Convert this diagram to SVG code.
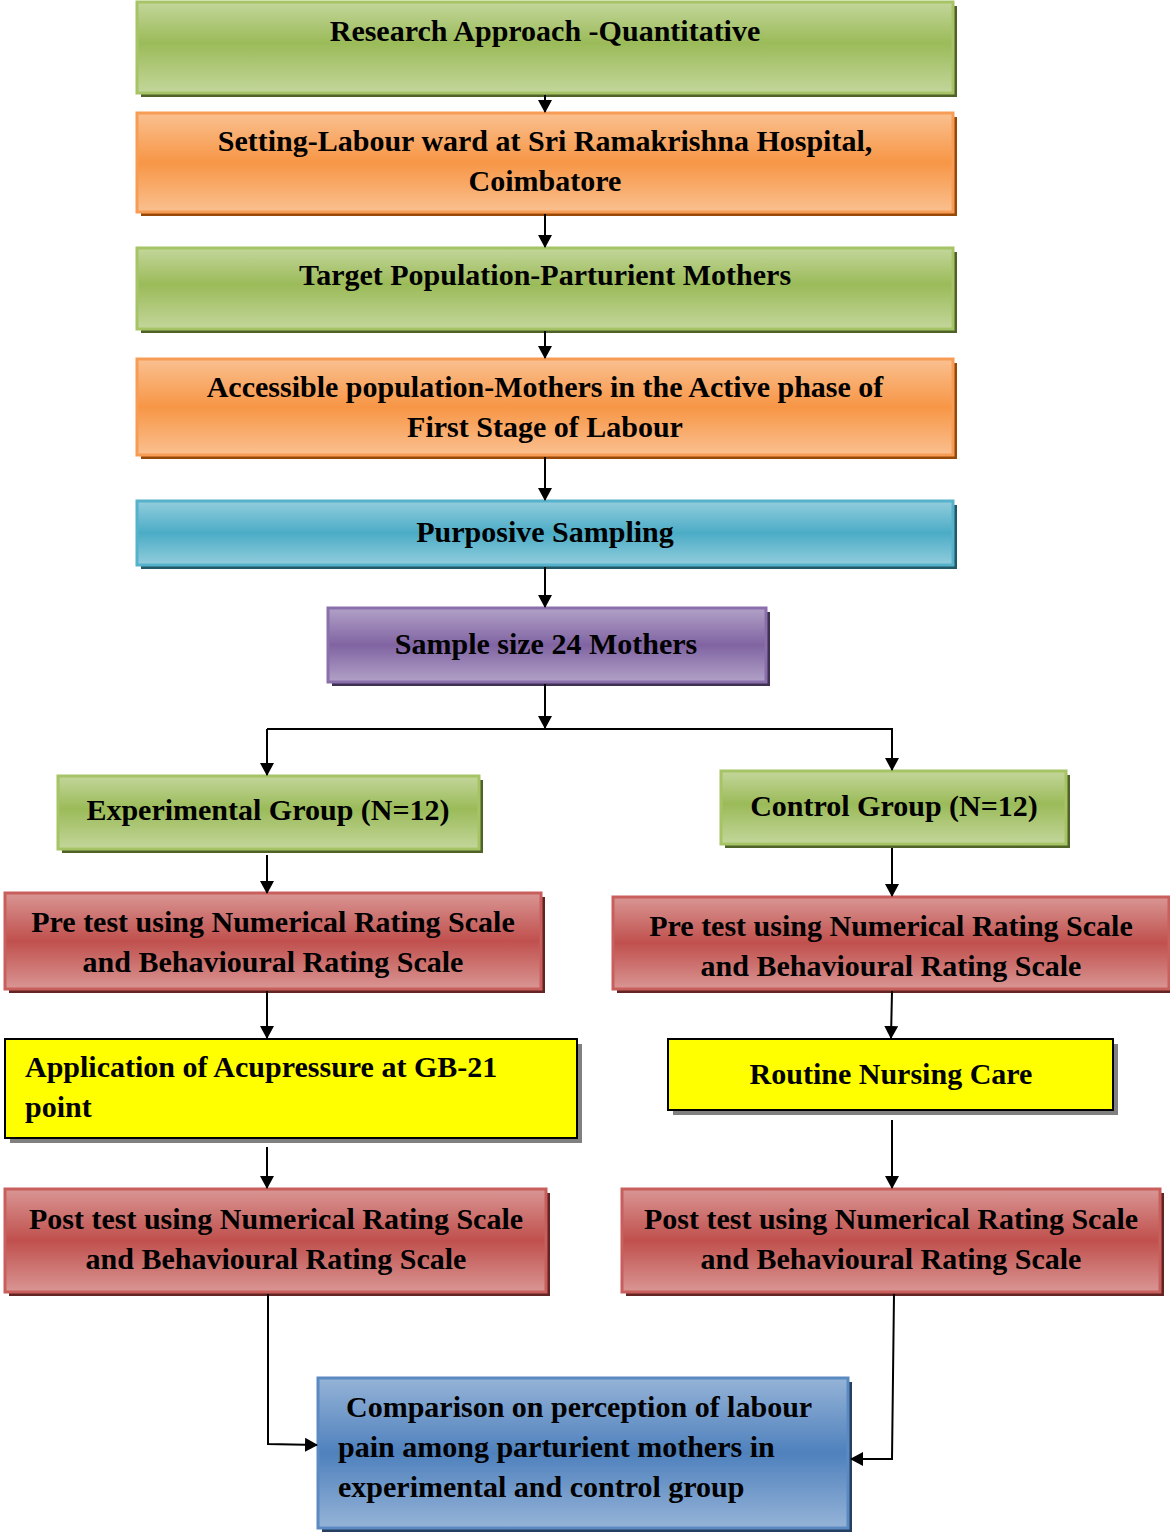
<svg xmlns="http://www.w3.org/2000/svg" width="1170" height="1534" viewBox="0 0 1170 1534" font-family="Liberation Serif, Times New Roman, serif">
<defs>
<linearGradient id="gGreen" x1="0" y1="0" x2="0" y2="1"><stop offset="0" stop-color="#c3d69b"/><stop offset="0.45" stop-color="#9bbb59"/><stop offset="1" stop-color="#c3d69b"/></linearGradient>
<linearGradient id="gOrange" x1="0" y1="0" x2="0" y2="1"><stop offset="0" stop-color="#fac090"/><stop offset="0.5" stop-color="#f79646"/><stop offset="1" stop-color="#fac090"/></linearGradient>
<linearGradient id="gCyan" x1="0" y1="0" x2="0" y2="1"><stop offset="0" stop-color="#93cddd"/><stop offset="0.5" stop-color="#4bacc6"/><stop offset="1" stop-color="#93cddd"/></linearGradient>
<linearGradient id="gPurple" x1="0" y1="0" x2="0" y2="1"><stop offset="0" stop-color="#b2a1c7"/><stop offset="0.5" stop-color="#8064a2"/><stop offset="1" stop-color="#b2a1c7"/></linearGradient>
<linearGradient id="gRed" x1="0" y1="0" x2="0" y2="1"><stop offset="0" stop-color="#d99694"/><stop offset="0.5" stop-color="#c0504d"/><stop offset="1" stop-color="#d99694"/></linearGradient>
<linearGradient id="gBlue" x1="0" y1="0" x2="0" y2="1"><stop offset="0" stop-color="#95b3d7"/><stop offset="0.5" stop-color="#4f81bd"/><stop offset="1" stop-color="#95b3d7"/></linearGradient>
<marker id="arr" markerWidth="13" markerHeight="14" viewBox="0 0 13 14" refX="12" refY="7" orient="auto" markerUnits="userSpaceOnUse"><path d="M0,0 L13,7 L0,14 Z" fill="#000"/></marker>
</defs>
<style>
text{font-family:'Liberation Serif','Times New Roman',serif;font-weight:bold;font-size:30px;fill:#000}
.c{text-anchor:middle}
.green{fill:url(#gGreen);stroke:#a6c465;stroke-width:3}
.greenS{fill:#4f6228}
.orange{fill:url(#gOrange);stroke:#f79c55;stroke-width:3}
.orangeS{fill:#984807}
.cyan{fill:url(#gCyan);stroke:#55b2ca;stroke-width:3}
.cyanS{fill:#215968}
.purple{fill:url(#gPurple);stroke:#8a6fab;stroke-width:3}
.purpleS{fill:#3f3151}
.red{fill:url(#gRed);stroke:#c85f5c;stroke-width:3}
.redS{fill:#632423}
.blue{fill:url(#gBlue);stroke:#5b8ac3;stroke-width:3}
.blueS{fill:#243f60}
.yellow{fill:#ffff00;stroke:#000;stroke-width:2}
.yellowS{fill:#808080}
.conn path{fill:none;stroke:#000;stroke-width:2}
</style>

<g id="n1"><rect class="greenS" x="141" y="6" width="816" height="91"/><rect class="green" x="137" y="2" width="816" height="91"/><text class="c" x="545" y="41">Research Approach -Quantitative</text></g>
<g id="n2"><rect class="orangeS" x="141" y="117" width="816" height="99"/><rect class="orange" x="137" y="113" width="816" height="99"/><text class="c" x="545" y="151">Setting-Labour ward at Sri Ramakrishna Hospital,</text><text class="c" x="545" y="191">Coimbatore</text></g>
<g id="n3"><rect class="greenS" x="141" y="252" width="816" height="81"/><rect class="green" x="137" y="248" width="816" height="81"/><text class="c" x="545" y="285">Target Population-Parturient Mothers</text></g>
<g id="n4"><rect class="orangeS" x="141" y="363" width="816" height="96"/><rect class="orange" x="137" y="359" width="816" height="96"/><text class="c" x="545" y="397">Accessible population-Mothers in the Active phase of</text><text class="c" x="545" y="437">First Stage of Labour</text></g>
<g id="n5"><rect class="cyanS" x="141" y="505" width="816" height="64"/><rect class="cyan" x="137" y="501" width="816" height="64"/><text class="c" x="545" y="542">Purposive Sampling</text></g>
<g id="n6"><rect class="purpleS" x="332" y="612" width="438" height="74"/><rect class="purple" x="328" y="608" width="438" height="74"/><text class="c" x="546" y="654">Sample size 24 Mothers</text></g>
<g id="n7"><rect class="greenS" x="62" y="780" width="421" height="73"/><rect class="green" x="58" y="776" width="421" height="73"/><text class="c" x="268" y="820">Experimental Group (N=12)</text></g>
<g id="n8"><rect class="greenS" x="725" y="775" width="345" height="73"/><rect class="green" x="721" y="771" width="345" height="73"/><text class="c" x="894" y="816">Control Group (N=12)</text></g>
<g id="n9"><rect class="redS" x="9" y="897" width="536" height="96"/><rect class="red" x="5" y="893" width="536" height="96"/><text class="c" x="273" y="932">Pre test using Numerical Rating Scale</text><text class="c" x="273" y="972">and Behavioural Rating Scale</text></g>
<g id="n10"><rect class="redS" x="617" y="901" width="556" height="92"/><rect class="red" x="613" y="897" width="556" height="92"/><text class="c" x="891" y="936">Pre test using Numerical Rating Scale</text><text class="c" x="891" y="976">and Behavioural Rating Scale</text></g>
<g id="n11"><rect class="yellowS" x="10" y="1044" width="572" height="99"/><rect class="yellow" x="5" y="1039" width="572" height="99"/><text x="25" y="1077">Application of Acupressure at GB-21</text><text x="25" y="1117">point</text></g>
<g id="n12"><rect class="yellowS" x="673" y="1044" width="445" height="71"/><rect class="yellow" x="668" y="1039" width="445" height="71"/><text class="c" x="891" y="1084">Routine Nursing Care</text></g>
<g id="n13"><rect class="redS" x="9" y="1193" width="541" height="103"/><rect class="red" x="5" y="1189" width="541" height="103"/><text class="c" x="276" y="1229">Post test using Numerical Rating Scale</text><text class="c" x="276" y="1269">and Behavioural Rating Scale</text></g>
<g id="n14"><rect class="redS" x="626" y="1193" width="538" height="103"/><rect class="red" x="622" y="1189" width="538" height="103"/><text class="c" x="891" y="1229">Post test using Numerical Rating Scale</text><text class="c" x="891" y="1269">and Behavioural Rating Scale</text></g>
<g id="n15"><rect class="blueS" x="322" y="1382" width="530" height="150"/><rect class="blue" x="318" y="1378" width="530" height="150"/><text x="346" y="1417">Comparison on perception of labour</text><text x="338" y="1457">pain among parturient mothers in</text><text x="338" y="1497">experimental and control group</text></g>

<g id="connectors" class="conn">
<path d="M545,95 L545,112" marker-end="url(#arr)"/>
<path d="M545,214 L545,247" marker-end="url(#arr)"/>
<path d="M545,331 L545,358" marker-end="url(#arr)"/>
<path d="M545,457 L545,500" marker-end="url(#arr)"/>
<path d="M545,567 L545,607" marker-end="url(#arr)"/>
<path d="M545,684 L545,728" marker-end="url(#arr)"/>
<path d="M267,729 L892,729 L892,770" marker-end="url(#arr)"/>
<path d="M267,729 L267,775" marker-end="url(#arr)"/>
<path d="M267,855 L267,893" marker-end="url(#arr)"/>
<path d="M892,848 L892,896" marker-end="url(#arr)"/>
<path d="M267,991 L267,1038" marker-end="url(#arr)"/>
<path d="M892,991 L891,1038" marker-end="url(#arr)"/>
<path d="M267,1147 L267,1188" marker-end="url(#arr)"/>
<path d="M892,1120 L892,1188" marker-end="url(#arr)"/>
<path d="M268,1294 L268,1444 L317,1445" marker-end="url(#arr)"/>
<path d="M894,1294 L892,1459 L851,1459" marker-end="url(#arr)"/>
</g>
</svg>
